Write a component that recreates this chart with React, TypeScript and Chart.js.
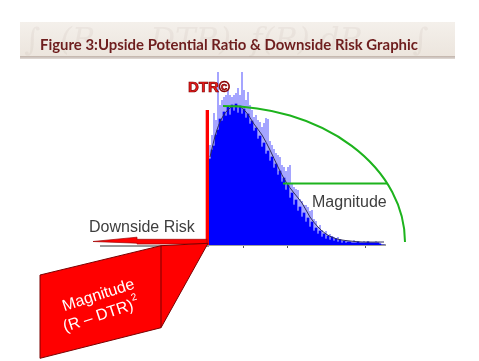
import React, { useEffect, useRef } from 'react';
import { Chart, registerables } from 'chart.js';

Chart.register(...registerables);

// Histogram of returns above the DTR (solid body and lighter spikes), heights per bin
const BODY = [
  86, 95, 99, 110, 115, 126, 124, 133, 129, 138,
  130, 140, 134, 141, 132, 139, 131, 136, 127, 131,
  121, 124, 114, 117, 106, 109, 98, 102, 91, 94,
  84, 88, 77, 81, 70, 74, 63, 67, 55, 60,
  47, 52, 40, 45, 34, 38, 28, 32, 23, 27,
  18, 23, 14, 17, 11, 14, 8, 11, 6, 9,
  5, 8, 4, 6, 3, 5, 2, 4, 2, 3,
  3, 2, 2, 2, 3, 2, 2, 2, 2, 3,
  2, 2, 2, 2, 2, 1, 0, 0,
];
const SPIKES = [
  100, 110, 132, 125, 173, 140, 145, 148, 150, 155,
  150, 148, 150, 152, 157, 150, 173, 155, 145, 153,
  140, 135, 128, 130, 125, 123, 118, 122, 127, 126,
  104, 100, 96, 92, 90, 88, 80, 78, 74, 78,
  80, 62, 58, 56, 55, 46, 44, 40, 40, 38,
  34, 35, 26, 24, 18, 20, 15, 12, 14, 10,
  11, 9, 8, 7, 8, 6, 5, 4, 5, 4,
  4, 3, 5, 3, 4, 3, 3, 4, 3, 4,
  3, 3, 3, 4, 3, 2, 0, 0,
];
// fitted density curve (bin index -> height)
const FIT_BINS = [0, 3, 6, 10, 14, 18, 22, 26, 30, 34, 38, 42, 46, 50, 54, 58, 62, 66, 70, 76, 87];
const FIT_VALUES = [88, 112, 127, 137, 139, 133, 121, 110, 95, 78, 63, 52, 42, 28, 18, 11, 7, 5, 4, 3, 3];
const TICK_BINS = [17, 39, 78];
const Y_MAX = 175;
const DTR_HEIGHT = 135;

const TITLE = 'Figure 3:Upside Potential Ratio & Downside Risk Graphic';
const GHOST = '\u222B  (R  \u2013  DTR)  f(R) dR     \u222B        \u2227';
const DTR_LABEL = 'DTR\u00A9';
const MAGNITUDE = 'Magnitude';
const DOWNSIDE = 'Downside Risk';
const SQ_LINE1 = 'Magnitude';
const SQ_LINE2 = '(R \u2013 DTR)';
const SQ_SUP = '2';

const LABELS = BODY.map((_, i) => String(i));

const decor = {
  id: 'decor',
  beforeDraw(chart: any) {
    const ctx = chart.ctx as CanvasRenderingContext2D;
    ctx.save();
    // banner
    const g = ctx.createLinearGradient(0, 22, 0, 57);
    g.addColorStop(0, '#f4f0eb');
    g.addColorStop(1, '#ece5dd');
    ctx.fillStyle = g;
    ctx.fillRect(20, 22, 435, 35);
    ctx.save();
    ctx.beginPath();
    ctx.rect(20, 22, 435, 35);
    ctx.clip();
    ctx.font = 'italic 31px "DejaVu Serif"';
    ctx.fillStyle = 'rgba(150,135,120,0.09)';
    ctx.textBaseline = 'alphabetic';
    ctx.fillText(GHOST, 24, 50);
    ctx.restore();
    ctx.strokeStyle = '#a08e84';
    ctx.lineWidth = 1.2;
    ctx.beginPath();
    ctx.moveTo(20, 57);
    ctx.lineTo(455, 57);
    ctx.stroke();
    ctx.strokeStyle = '#ddd5cf';
    ctx.beginPath();
    ctx.moveTo(20, 58.5);
    ctx.lineTo(455, 58.5);
    ctx.stroke();
    // title
    ctx.font = 'bold 16px Lato';
    const w = ctx.measureText(TITLE).width;
    ctx.translate(40, 49.5);
    ctx.scale(378 / w, 1);
    ctx.fillStyle = '#6e1e1e';
    ctx.fillText(TITLE, 0, 0);
    ctx.restore();
  },
  afterDraw(chart: any) {
    const ctx = chart.ctx as CanvasRenderingContext2D;
    const { left, bottom } = chart.chartArea;
    const y = chart.scales.y;
    ctx.save();
    // axis extension to the left of DTR
    ctx.strokeStyle = '#9a9a9a';
    ctx.lineWidth = 2;
    ctx.beginPath();
    ctx.moveTo(100, bottom + 1);
    ctx.lineTo(left, bottom + 1);
    ctx.stroke();

    // DTR vertical threshold
    ctx.fillStyle = '#ff0000';
    const topY = y.getPixelForValue(DTR_HEIGHT);
    ctx.fillRect(left - 3, topY, 3, bottom - topY);
    ctx.fillStyle = 'rgba(255,120,120,0.6)';
    ctx.fillRect(left - 4, topY, 1, bottom - topY);

    // Downside arrow
    ctx.fillStyle = '#ff0000';
    ctx.strokeStyle = '#a00000';
    ctx.lineWidth = 0.7;
    ctx.beginPath();
    ctx.moveTo(93, 241.5);
    ctx.lineTo(137, 237.2);
    ctx.lineTo(137, 239.3);
    ctx.lineTo(left - 2, 239.3);
    ctx.lineTo(left - 2, 244);
    ctx.lineTo(137, 244);
    ctx.lineTo(137, 243.2);
    ctx.closePath();
    ctx.fill();
    ctx.stroke();

    // Magnitude squared box
    ctx.fillStyle = '#ff0000';
    ctx.strokeStyle = '#7a0000';
    ctx.lineWidth = 1;
    ctx.beginPath();
    ctx.moveTo(40, 275);
    ctx.lineTo(161, 245.7);
    ctx.lineTo(left - 1, 243.3);
    ctx.lineTo(161, 327.7);
    ctx.lineTo(40, 358.3);
    ctx.closePath();
    ctx.fill();
    ctx.stroke();
    ctx.beginPath();
    ctx.moveTo(161, 245.7);
    ctx.lineTo(161, 327.7);
    ctx.stroke();

    ctx.fillStyle = '#ffffff';
    ctx.textBaseline = 'middle';
    ctx.font = '16px "Liberation Sans"';
    const ang = (-18 * Math.PI) / 180;
    ctx.save();
    ctx.translate(98.5, 295.5);
    ctx.rotate(ang);
    ctx.textAlign = 'center';
    ctx.fillText(SQ_LINE1, 0, 0);
    ctx.restore();
    ctx.save();
    ctx.translate(101, 315.5);
    ctx.rotate(ang);
    ctx.textAlign = 'left';
    const w1 = ctx.measureText(SQ_LINE2).width;
    ctx.font = '10px "Liberation Sans"';
    const w2 = ctx.measureText(SQ_SUP).width;
    const sx = -(w1 + w2) / 2;
    ctx.font = '16px "Liberation Sans"';
    ctx.fillText(SQ_LINE2, sx, 0);
    ctx.font = '10px "Liberation Sans"';
    ctx.fillText(SQ_SUP, sx + w1 + 0.5, -7);
    ctx.restore();

    // green arc and line
    ctx.strokeStyle = '#1db31d';
    ctx.lineWidth = 2;
    ctx.beginPath();
    ctx.ellipse(223, 242, 182, 136, 0, -Math.PI / 2, 0);
    ctx.stroke();
    ctx.beginPath();
    ctx.moveTo(283, 183.5);
    ctx.lineTo(387, 183.5);
    ctx.stroke();

    // labels
    ctx.textBaseline = 'alphabetic';
    ctx.textAlign = 'left';
    ctx.font = '16px "Liberation Sans"';
    ctx.fillStyle = '#3e3e3e';
    ctx.fillText(MAGNITUDE, 312, 206.5);
    ctx.fillText(DOWNSIDE, 89, 231.5);

    ctx.font = 'bold 15px "Liberation Sans"';
    ctx.fillStyle = '#ee1c1c';
    ctx.fillText(DTR_LABEL, 188, 92);
    ctx.strokeStyle = '#7a0000';
    ctx.lineWidth = 0.7;
    ctx.strokeText(DTR_LABEL, 188, 92);
    ctx.restore();
  },
};

export default function App() {
  const ref = useRef<HTMLCanvasElement | null>(null);
  useEffect(() => {
    let chart: Chart | null = null;
    let cancelled = false;
    const make = () => {
      if (cancelled || !ref.current) return;
      chart = new Chart(ref.current, {
        type: 'bar',
        data: {
          labels: LABELS,
          datasets: [
            {
              type: 'line',
              data: FIT_BINS.map((b, i) => ({ x: LABELS[b], y: FIT_VALUES[i] })),
              borderColor: '#2e2e5a',
              borderWidth: 1,
              pointRadius: 0,
              tension: 0.35,
              spanGaps: true,
              order: 0,
            } as any,
            {
              data: BODY,
              backgroundColor: '#0000ff',
              borderWidth: 0,
              barPercentage: 1,
              categoryPercentage: 1,
              grouped: false,
              order: 1,
            } as any,
            {
              data: SPIKES,
              backgroundColor: '#7f7fff',
              borderWidth: 0,
              barPercentage: 0.7,
              categoryPercentage: 1,
              grouped: false,
              order: 2,
            } as any,
          ],
        },
        options: {
          responsive: true,
          maintainAspectRatio: false,
          animation: false,
          layout: { padding: { left: 209, right: 94, top: 70, bottom: 113 } },
          plugins: { legend: { display: false }, tooltip: { enabled: false } },
          scales: {
            x: {
              display: true,
              offset: true,
              ticks: { display: false, autoSkip: false },
              grid: {
                offset: true,
                drawOnChartArea: false,
                drawTicks: true,
                tickLength: 3,
                lineWidth: 1,
                color: (c: any) => (TICK_BINS.includes(c.index) ? '#555555' : 'rgba(0,0,0,0)'),
              },
              border: { display: true, color: '#a0a0a0', width: 2 },
            },
            y: { display: false, min: 0, max: Y_MAX },
          },
        } as any,
        plugins: [decor],
      });
    };
    const fonts = (document as any).fonts;
    if (fonts && fonts.load) {
      Promise.all([
        fonts.load('bold 16px Lato'),
        fonts.load('16px "Liberation Sans"'),
        fonts.load('bold 15px "Liberation Sans"'),
        fonts.load('italic 31px "DejaVu Serif"'),
      ]).then(make, make);
    } else {
      make();
    }
    return () => {
      cancelled = true;
      if (chart) chart.destroy();
    };
  }, []);
  return (
    <div style={{ position: 'absolute', left: 0, top: 0, width: 479, height: 361, background: '#ffffff' }}>
      <canvas ref={ref} />
    </div>
  );
}
